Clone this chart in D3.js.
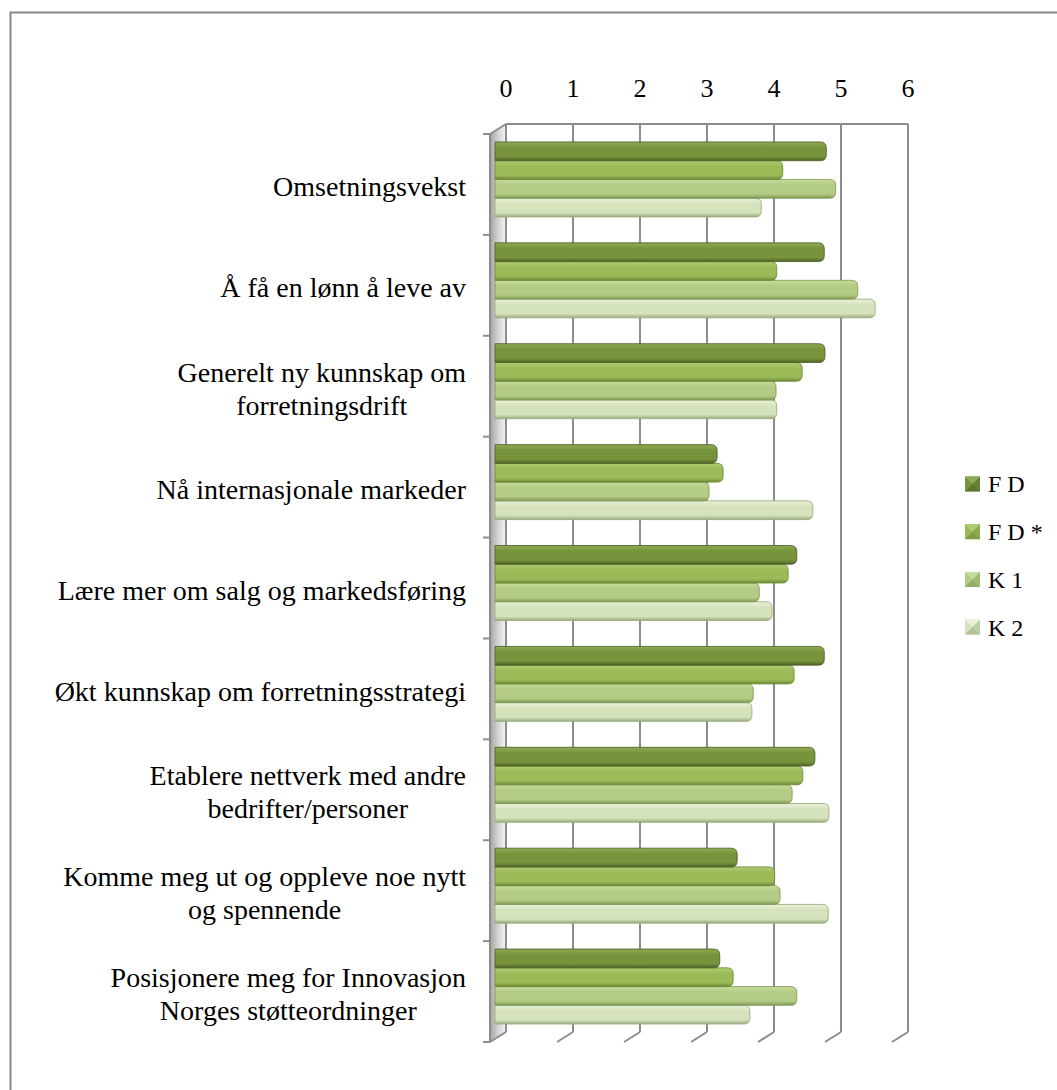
<!DOCTYPE html>
<html>
<head>
<meta charset="utf-8">
<script src="https://cdn.jsdelivr.net/npm/d3@7"></script>
<style>
  body { margin: 0; background: #fff; }
  svg text { font-family: "Liberation Serif", "DejaVu Serif", serif; fill: #000; }
</style>
</head>
<body>
<svg id="chart" width="1057" height="1090"></svg>
<script>
// Survey categories (top to bottom) and their label lines
const categories = [
  "Omsetningsvekst",
  "Å få en lønn å leve av",
  "Generelt ny kunnskap om forretningsdrift",
  "Nå internasjonale markeder",
  "Lære mer om salg og markedsføring",
  "Økt kunnskap om forretningsstrategi",
  "Etablere nettverk med andre bedrifter/personer",
  "Komme meg ut og oppleve noe nytt og spennende",
  "Posisjonere meg for Innovasjon Norges støtteordninger"
];
const labelLines = [
  ["Omsetningsvekst"],
  ["Å få en lønn å leve av"],
  ["Generelt ny kunnskap om", "forretningsdrift"],
  ["Nå internasjonale markeder"],
  ["Lære mer om salg og markedsføring"],
  ["Økt kunnskap om forretningsstrategi"],
  ["Etablere nettverk med andre", "bedrifter/personer"],
  ["Komme meg ut og oppleve noe nytt", "og spennende"],
  ["Posisjonere meg for Innovasjon", "Norges støtteordninger"]
];

const seriesNames = ["F D", "F D *", "K 1", "K 2"];
const fd     = [4.90, 4.87, 4.88, 3.27, 4.46, 4.87, 4.73, 3.57, 3.31];
const fdStar = [4.25, 4.16, 4.54, 3.36, 4.33, 4.42, 4.55, 4.13, 3.51];
const k1     = [5.04, 5.37, 4.15, 3.15, 3.90, 3.81, 4.39, 4.21, 4.46];
const k2     = [3.93, 5.63, 4.16, 4.70, 4.09, 3.79, 4.94, 4.93, 3.76];
const tickValues = [0, 1, 2, 3, 4, 5, 6];

const seriesValues = [fd, fdStar, k1, k2];
const palette = [
  { light: "#8fab52", base: "#77933c", dark: "#4f6228" },
  { light: "#b0cc70", base: "#9bbb59", dark: "#6f8a36" },
  { light: "#c8dc9f", base: "#b3cb84", dark: "#7f9a55" },
  { light: "#eaf2dc", base: "#d5e3bd", dark: "#98ac7c" }
];

const svg = d3.select("#chart");
const defs = svg.append("defs");

// Frame around the chart area
svg.append("rect")
  .attr("x", 10.5).attr("y", 12.5)
  .attr("width", 1060).attr("height", 1090)
  .attr("fill", "none").attr("stroke", "#878787").attr("stroke-width", 2);

// 3D geometry: back wall plane and the depth offset to the front plane
const depthX = -16, depthY = 10;
const wallTop = 124, wallBottom = 1032;
const x = d3.scaleLinear().domain([0, 6]).range([506, 908]);
const xBar = d3.scaleLinear().domain([0, 6]).range([498, 900]);

const y = d3.scaleBand().domain(categories).range([wallTop, wallBottom])
  .paddingInner(0.257).paddingOuter(0.1285);
const ySub = d3.scaleBand().domain(seriesNames).range([0, y.bandwidth()]);
const step = y.step();

const grid = svg.append("g");
const gridColor = "#8c8c8c";

// Left wall
const wallGrad = defs.append("linearGradient").attr("id", "wallGrad")
  .attr("x1", 0).attr("y1", 0).attr("x2", 1).attr("y2", 0.02);
wallGrad.append("stop").attr("offset", "0%").attr("stop-color", "#a3a3a3");
wallGrad.append("stop").attr("offset", "55%").attr("stop-color", "#d6d6d6");
wallGrad.append("stop").attr("offset", "100%").attr("stop-color", "#f4f4f4");

grid.append("path")
  .attr("d", `M${x(0) + depthX},${wallTop - depthY * 0 + depthY} L${x(0)},${wallTop} L${x(0)},${wallBottom} L${x(0) + depthX},${wallBottom + depthY} Z`)
  .attr("fill", "url(#wallGrad)").attr("stroke", "none");

// Back wall gridlines and floor edges
tickValues.forEach(t => {
  grid.append("line")
    .attr("x1", x(t)).attr("x2", x(t)).attr("y1", wallTop).attr("y2", wallBottom)
    .attr("stroke", gridColor).attr("stroke-width", 2);
  grid.append("line")
    .attr("x1", x(t)).attr("y1", wallBottom)
    .attr("x2", x(t) + depthX).attr("y2", wallBottom + depthY)
    .attr("stroke", gridColor).attr("stroke-width", 2);
});
grid.append("line")
  .attr("x1", x(0)).attr("x2", x(6)).attr("y1", wallTop).attr("y2", wallTop)
  .attr("stroke", gridColor).attr("stroke-width", 2);
grid.append("line")
  .attr("x1", x(0)).attr("y1", wallTop)
  .attr("x2", x(0) + depthX).attr("y2", wallTop + depthY)
  .attr("stroke", gridColor).attr("stroke-width", 2);
grid.append("line")
  .attr("x1", x(0) + depthX).attr("x2", x(0) + depthX)
  .attr("y1", wallTop + depthY).attr("y2", wallBottom + depthY)
  .attr("stroke", gridColor).attr("stroke-width", 2);

// Category tick marks on the front edge
d3.range(categories.length + 1).forEach(i => {
  const ty = wallTop + depthY + i * step;
  grid.append("line")
    .attr("x1", x(0) + depthX - 7).attr("x2", x(0) + depthX)
    .attr("y1", ty).attr("y2", ty)
    .attr("stroke", gridColor).attr("stroke-width", 2);
});

// Value axis labels along the top
svg.append("g").selectAll("text").data(tickValues).join("text")
  .attr("x", d => x(d)).attr("y", 97)
  .attr("text-anchor", "middle")
  .style("font-size", "26px")
  .text(d => d);

// Bar gradients
palette.forEach((c, i) => {
  const g = defs.append("linearGradient").attr("id", "barGrad" + i)
    .attr("x1", 0).attr("y1", 0).attr("x2", 0).attr("y2", 1);
  g.append("stop").attr("offset", "0%").attr("stop-color", c.light);
  g.append("stop").attr("offset", "30%").attr("stop-color", c.base);
  g.append("stop").attr("offset", "78%").attr("stop-color", c.base);
  g.append("stop").attr("offset", "100%").attr("stop-color", c.dark);
});

function barPath(x0, x1, y0, h) {
  const r = Math.min(6, h / 2, Math.max(0, x1 - x0));
  return `M${x0},${y0} L${x1 - r},${y0} Q${x1},${y0} ${x1},${y0 + r} L${x1},${y0 + h - r} Q${x1},${y0 + h} ${x1 - r},${y0 + h} L${x0},${y0 + h} Z`;
}

// Bars: each cluster sits half-way into the depth
const bars = svg.append("g");
categories.forEach((cat, ci) => {
  for (let si = seriesNames.length - 1; si >= 0; si--) {
    const v = seriesValues[si][ci];
    const y0 = y(cat) + depthY / 2 + ySub(seriesNames[si]);
    bars.append("path")
      .attr("d", barPath(x(0) + depthX + 5, xBar(v), y0, ySub.bandwidth()))
      .attr("fill", `url(#barGrad${si})`)
      .attr("stroke", palette[si].dark).attr("stroke-width", 1)
      .attr("stroke-opacity", 0.85);
  }
});

// Category labels, right aligned, multi-line blocks centred on themselves
const labelRight = 466, lineH = 33;
const labels = svg.append("g").style("font-size", "28px");
categories.forEach((cat, ci) => {
  const lines = labelLines[ci];
  const cy = y(cat) - y.paddingOuter() * step + step / 2 + depthY + 2;
  const g = labels.append("g");
  const texts = lines.map((ln, li) => g.append("text")
    .attr("y", cy + (li - (lines.length - 1) / 2) * lineH)
    .attr("dy", "0.35em")
    .text(ln));
  const widths = texts.map(t => t.node().getComputedTextLength());
  const maxW = d3.max(widths);
  texts.forEach((t, li) => {
    t.attr("x", labelRight - maxW / 2).attr("text-anchor", "middle");
  });
});

// Legend with bevelled square markers
const legend = svg.append("g").style("font-size", "24px");
seriesNames.forEach((name, i) => {
  const ly = 484 + i * 47.7;
  const mx = 965, my = ly - 7.5, s = 15, c = palette[i];
  const g = legend.append("g");
  g.append("rect").attr("x", mx).attr("y", my).attr("width", s).attr("height", s).attr("fill", c.base);
  g.append("path").attr("d", `M${mx},${my} L${mx + s},${my} L${mx + s / 2},${my + s / 2} Z`).attr("fill", c.light);
  g.append("path").attr("d", `M${mx},${my + s} L${mx + s},${my + s} L${mx + s / 2},${my + s / 2} Z`).attr("fill", c.dark).attr("opacity", 0.6);
  g.append("path").attr("d", `M${mx + s},${my} L${mx + s},${my + s} L${mx + s / 2},${my + s / 2} Z`).attr("fill", c.dark).attr("opacity", 0.35);
  g.append("text").attr("x", 988).attr("y", ly).attr("dy", "0.35em").text(name);
});
</script>
</body>
</html>
